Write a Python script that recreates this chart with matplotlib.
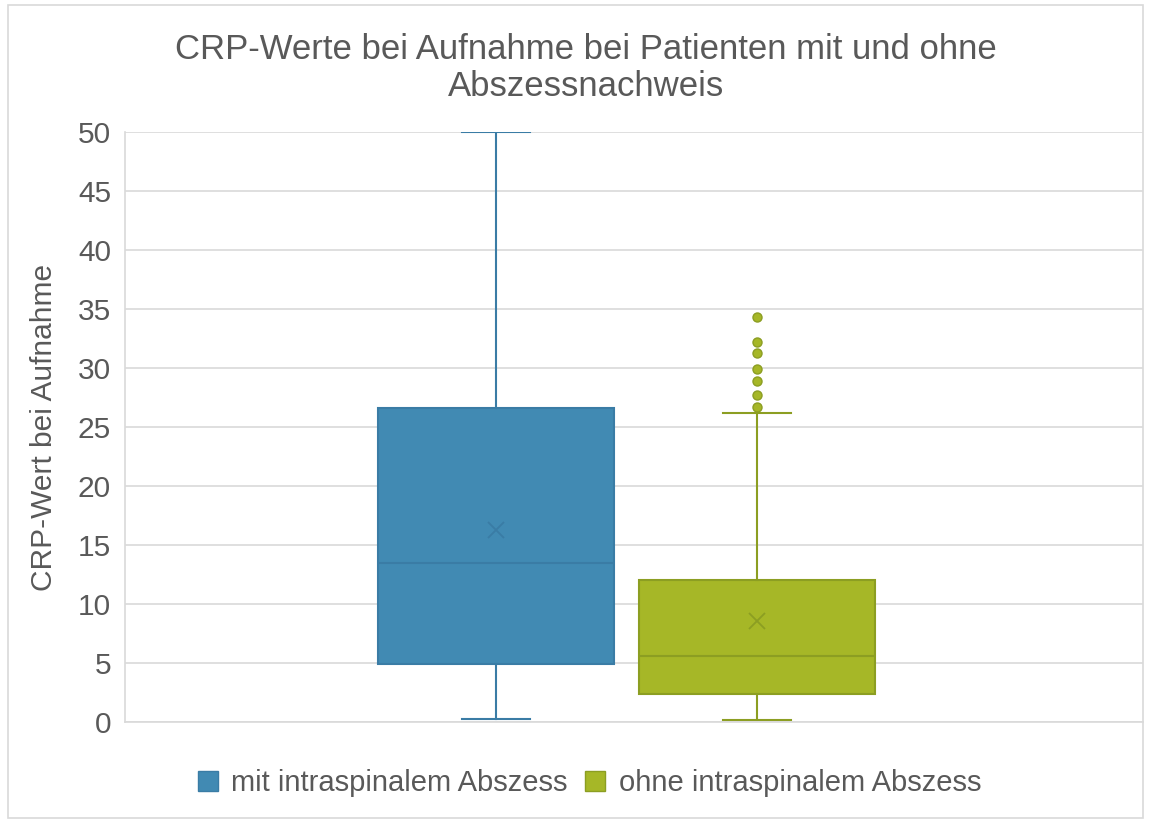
import matplotlib
matplotlib.use("Agg")
import matplotlib.pyplot as plt
from matplotlib.patches import Patch, Rectangle

plt.rcParams["font.family"] = ["Liberation Sans", "DejaVu Sans"]

TEXT = "#595959"
GRID = "#D9D9D9"

# data
groups = ["mit intraspinalem Abszess", "ohne intraspinalem Abszess"]
whislo = [0.25, 0.15]
q1 = [4.9, 2.4]
med = [13.5, 5.6]
q3 = [26.6, 12.0]
whishi = [50.0, 26.2]
means = [16.3, 8.6]
fliers = [[], [34.3, 32.2, 31.3, 29.9, 28.9, 27.7, 26.7]]

fill_colors = ["#418AB3", "#A6B727"]
edge_colors = ["#3A7CA5", "#8C9E22"]
y_ticks = [0, 5, 10, 15, 20, 25, 30, 35, 40, 45, 50]

fig = plt.figure(figsize=(11.51, 8.23), dpi=100)
fig.patches.append(Rectangle((0.007, 0.006), 0.986, 0.988, transform=fig.transFigure,
                             fill=False, edgecolor=GRID, linewidth=1.2))
ax = fig.add_axes([0.1086, 0.1227, 0.8844, 0.7169])

stats = []
for i, name in enumerate(groups):
    stats.append(dict(label=name, whislo=whislo[i], q1=q1[i], med=med[i], q3=q3[i],
                      whishi=whishi[i], mean=means[i], fliers=fliers[i]))

positions = [1, 2]
for i, st in enumerate(stats):
    ec = edge_colors[i]
    ax.bxp([st], positions=[positions[i]], widths=0.904, patch_artist=True,
           showmeans=True, showfliers=True,
           boxprops=dict(facecolor=fill_colors[i], edgecolor=ec, linewidth=1.5),
           medianprops=dict(color=ec, linewidth=1.5),
           whiskerprops=dict(color=ec, linewidth=1.5),
           capprops=dict(color=ec, linewidth=1.5),
           capwidths=0.26,
           meanprops=dict(marker="x", markeredgecolor=ec, markersize=11,
                          markeredgewidth=1.3),
           flierprops=dict(marker="o", markerfacecolor=fill_colors[i],
                           markeredgecolor=ec, markersize=6.5))

ax.set_xlim(-0.421, 3.479)
ax.set_ylim(0, 50)
ax.set_yticks(y_ticks)
ax.set_xticks([])
ax.yaxis.grid(True, color=GRID, linewidth=1.2)
ax.set_axisbelow(True)
for s in ["top", "right"]:
    ax.spines[s].set_visible(False)
for s in ["left", "bottom"]:
    ax.spines[s].set_color(GRID)
    ax.spines[s].set_linewidth(1.2)
ax.tick_params(axis="y", length=0, labelsize=21.5, labelcolor=TEXT, pad=10)

ax.set_ylabel("CRP-Wert bei Aufnahme", fontsize=21.5, color=TEXT, labelpad=14)
fig.text(0.509, 0.917, "CRP-Werte bei Aufnahme bei Patienten mit und ohne\nAbszessnachweis",
         ha="center", va="center", fontsize=25, color=TEXT, linespacing=1.15)

handles = [Patch(facecolor=fill_colors[i], edgecolor=edge_colors[i]) for i in range(2)]
fig.legend(handles, groups, loc="center", bbox_to_anchor=(0.512, 0.0486), ncol=2,
           frameon=False, fontsize=21, labelcolor=TEXT, handlelength=0.69,
           handleheight=0.69, handletextpad=0.45, columnspacing=0.62)

fig.savefig("out.png", dpi=100)
